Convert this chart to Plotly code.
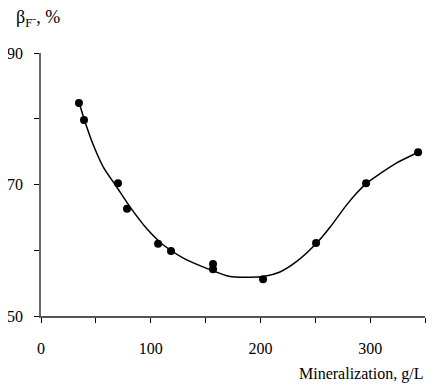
import plotly.graph_objects as go

# measured points
pts_x = [34.6, 39.2, 70.2, 78.4, 106.7, 118.5, 156.8, 156.8, 202.4, 250.7, 296.3, 343.7]
pts_y = [82.4, 79.8, 70.2, 66.3, 61.0, 59.9, 57.9, 57.1, 55.6, 61.1, 70.2, 74.9]

# fitted curve
curve_x = [34.9, 40.1, 47.7, 56.8, 69.0, 81.1, 96.3, 111.5, 129.7, 151.0, 172.3, 190.5,
           202.6, 217.8, 233.1, 251.3, 263.4, 278.6, 287.8, 296.9, 309.0, 324.2, 343.9]
curve_y = [82.35, 79.55, 76.0, 72.65, 69.62, 66.6, 63.3, 60.8, 58.8, 57.25, 56.0, 55.9,
           56.0, 56.7, 58.3, 61.1, 63.5, 66.9, 68.7, 70.2, 71.64, 73.28, 74.9]

x_ticks = [0, 100, 200, 300]
y_ticks = [50, 70, 90]

font = "Liberation Serif, Times New Roman, serif"

fig = go.Figure()
fig.add_trace(go.Scatter(x=curve_x, y=curve_y, mode="lines",
                         line=dict(color="black", width=1.5, shape="spline", smoothing=0.7),
                         hoverinfo="skip", showlegend=False))
fig.add_trace(go.Scatter(x=pts_x, y=pts_y, mode="markers",
                         marker=dict(color="black", size=8), showlegend=False))

# page body has an 8px margin, so the figure is 8px smaller and margins are shifted
fig.update_layout(
    width=429, height=380,
    margin=dict(l=33, r=12, t=45, b=72),
    paper_bgcolor="white", plot_bgcolor="white",
    font=dict(family=font, size=16, color="black"),
    xaxis=dict(range=[0, 350], tickvals=x_ticks, ticks="outside", ticklen=5,
               tickcolor="black", tickwidth=1, showline=True, linecolor="#555", linewidth=1.5,
               showgrid=False, zeroline=False, ticklabelstandoff=12, automargin=False,
               minor=dict(dtick=50, tick0=0, ticks="outside", ticklen=5, tickcolor="black")),
    yaxis=dict(range=[50, 90], tickvals=y_ticks, ticks="outside", ticklen=5,
               tickcolor="black", tickwidth=1, showline=True, linecolor="#666", linewidth=1.5,
               showgrid=False, zeroline=False, automargin=False, ticklabelstandoff=8,
               minor=dict(dtick=10, tick0=50, ticks="outside", ticklen=5, tickcolor="black")),
    annotations=[
        dict(text="Mineralization, g/L", xref="paper", yref="paper", x=1.0, y=0,
             xanchor="right", yanchor="middle", yshift=-58, showarrow=False,
             font=dict(family=font, size=16)),
        dict(text="β<sub>F⁻</sub>, %", xref="paper", yref="paper", x=0, y=1,
             xanchor="left", yanchor="middle", xshift=-27, yshift=35, showarrow=False,
             font=dict(family=font, size=18)),
    ],
)
fig.write_html("out.html")
